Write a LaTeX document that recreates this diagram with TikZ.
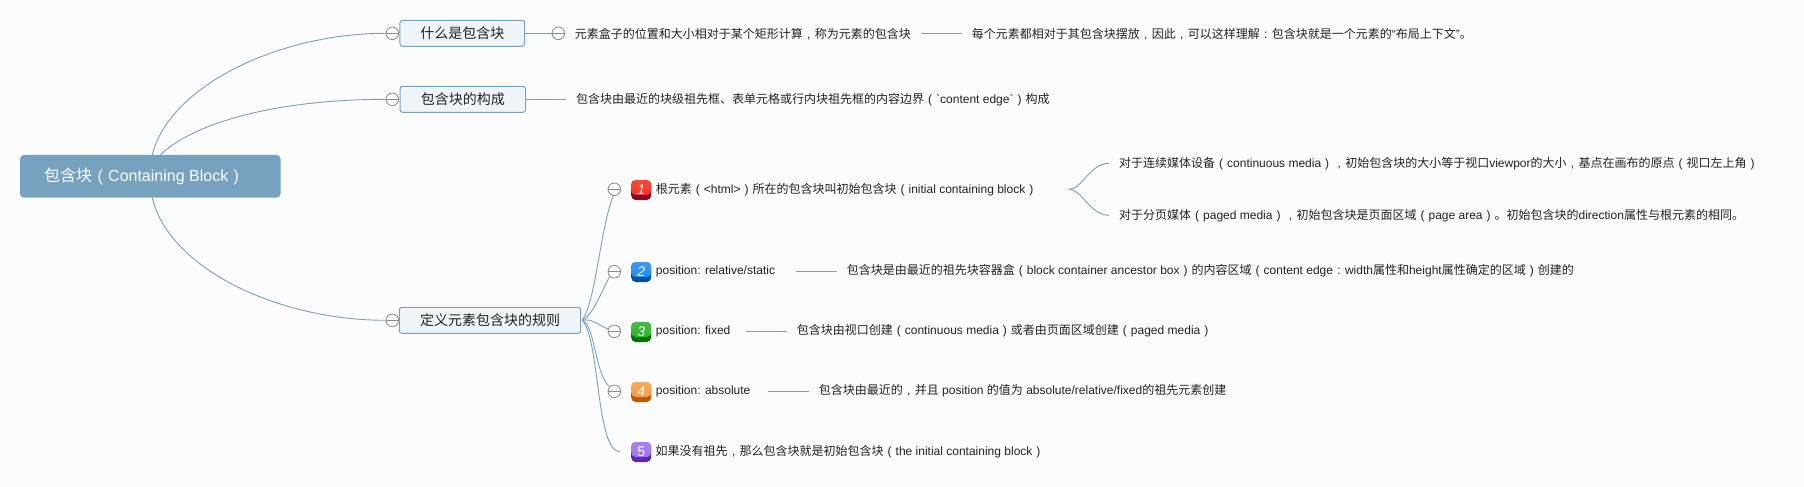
\documentclass[tikz,border=0pt]{standalone}
\usepackage{fontspec}
\setmainfont{Liberation Sans}
\newfontfamily\cjk{Noto Sans CJK SC}
\newfontfamily\lat{Liberation Sans}
\newcommand{\zh}[1]{{\cjk #1}}
\newcommand{\fw}[1]{\makebox[1em][c]{#1}}
\newcommand{\lp}{\fw{(}}
\newcommand{\rp}{\fw{)}}
\newcommand{\cma}{\fw{,}}
\newcommand{\cln}{\fw{:}}
\newcommand{\bq}{{\lat\char96}}
\definecolor{bg}{HTML}{FCFCFC}
\definecolor{main}{HTML}{76A2C0}
\definecolor{lite}{HTML}{EFF4F8}
\definecolor{ink}{HTML}{222222}
\definecolor{ring}{HTML}{8A8A8A}
\definecolor{redT}{HTML}{F42A18}\definecolor{redB}{HTML}{8A0424}
\definecolor{bluT}{HTML}{1C86F2}\definecolor{bluB}{HTML}{00509E}
\definecolor{greT}{HTML}{24B024}\definecolor{greB}{HTML}{007400}
\definecolor{oraT}{HTML}{F89A3C}\definecolor{oraB}{HTML}{B85A0A}
\definecolor{purT}{HTML}{9C6CF2}\definecolor{purB}{HTML}{5A28B4}
\tikzset{
  x=1pt,y=-1pt,
  link/.style={draw=main,line width=0.9pt},
  rootbox/.style={fill=main,rounded corners=4pt,text=white,inner sep=0pt,font=\fontsize{16}{18}\selectfont},
  topic/.style={draw=main,fill=lite,line width=1pt,rounded corners=2.5pt,inner sep=0pt,minimum height=26pt,text=ink,font=\fontsize{14}{16}\selectfont},
  minus/.style={circle,draw=ring,fill=bg,line width=0.8pt,minimum size=12.6pt,inner sep=0pt,
    path picture={\draw[ring,line width=0.8pt] (path picture bounding box.west) -- (path picture bounding box.east);}},
  txt/.style={anchor=base west,inner sep=0pt,text=ink,font=\fontsize{12}{14}\selectfont},
  pill/.style n args={2}{rectangle,rounded corners=4.5pt,minimum size=20pt,inner sep=0pt,fill=#2,text=white,font=\fontsize{14}{16}\selectfont\itshape,
    path picture={\shade[top color=#1!85!white,bottom color=#1] (path picture bounding box.north west) rectangle ([yshift=-15pt]path picture bounding box.north east);}},
}
\begin{document}
\begin{tikzpicture}
\useasboundingbox (0,0) rectangle (1804,487);
\fill[bg] (0,0) rectangle (1804,487);

\node[rootbox,minimum width=260.5pt,minimum height=42.7pt] (root) at (150.25,176.3) {\zh{包含块}\lp Containing Block\rp\hspace*{12pt}};

\node[topic,minimum width=124.7pt] (t1) at (462.3,33.3) {\raisebox{0.6pt}{\zh{什么是包含块}}};
\node[topic,minimum width=125.6pt] (t2) at (462.8,99.3) {\raisebox{0.6pt}{\zh{包含块的构成}}};
\node[topic,minimum width=181.4pt] (t3) at (490,320.3) {\zh{定义元素包含块的规则}};

\node[minus] (c1) at (392.3,33.3) {};
\node[minus] (c2) at (392.3,99.3) {};
\node[minus] (c3) at (392.3,320.3) {};
\node[minus] (d1) at (558.3,33.3) {};
\node[minus] (r1) at (614.3,189.3) {};
\node[minus] (r2) at (614.3,271.7) {};
\node[minus] (r3) at (614.3,331.3) {};
\node[minus] (r4) at (614.3,391.3) {};

% first branch
\node[txt] (a1) at (574.7,38.2) {\zh{元素盒子的位置和大小相对于某个矩形计算}\cma\zh{称为元素的包含块}};
\node[txt] (a2) at (971.7,38.2) {\zh{每个元素都相对于其包含块摆放}\cma\zh{因此}\cma\zh{可以这样理解}\cln\zh{包含块就是一个元素的}“\zh{布局上下文}”\zh{。}};
\node[txt] (b1) at (576,103.6) {\zh{包含块由最近的块级祖先框、表单元格或行内块祖先框的内容边界}\lp\bq content edge\bq\rp\zh{构成}};

% rule list
\node[pill={redT}{redB}] (i1) at (641.2,190) {1};
\node[pill={bluT}{bluB}] (i2) at (641.2,272) {2};
\node[pill={greT}{greB}] (i3) at (641.2,332) {3};
\node[pill={oraT}{oraB}] (i4) at (641.2,392) {4};
\node[pill={purT}{purB},font=\fontsize{14}{16}\selectfont] (i5) at (641.2,452) {5};

\node[txt] (l1) at (655.7,193.4) {\zh{根元素}\lp<html>\rp\zh{所在的包含块叫初始包含块}\lp initial containing block\rp};
\node[txt] (l2) at (655.7,274.4) {position: relative/static};
\node[txt] (l3) at (655.7,334.8) {position: fixed};
\node[txt] (l4) at (655.7,394.8) {position: absolute};
\node[txt] (l5) at (655.5,455) {\zh{如果没有祖先}\cma\zh{那么包含块就是初始包含块}\lp the initial containing block\rp};

\node[txt] (m1) at (1119,167.4) {\zh{对于连续媒体设备}\lp continuous media\rp\cma\zh{初始包含块的大小等于视口}viewpor\zh{的大小}\cma\zh{基点在画布的原点}\lp\zh{视口左上角}\rp};
\node[txt] (m2) at (1119,219.4) {\zh{对于分页媒体}\lp paged media\rp\cma\zh{初始包含块是页面区域}\lp page area\rp\zh{。初始包含块的}direction\zh{属性与根元素的相同。}};
\node[txt] (n2) at (846.7,274.4) {\zh{包含块是由最近的祖先块容器盒}\lp block container ancestor box\rp\zh{的内容区域}\lp content edge\cln width\zh{属性和}height\zh{属性确定的区域}\rp\zh{创建的}};
\node[txt] (n3) at (796.7,334.8) {\zh{包含块由视口创建}\lp continuous media\rp\zh{或者由页面区域创建}\lp paged media\rp};
\node[txt] (n4) at (818.7,394.8) {\zh{包含块由最近的}\cma\zh{并且} position \zh{的值为} absolute/relative/fixed\zh{的祖先元素创建}};

\coordinate (fa) at (921,33.3);
\coordinate (fb) at (961.7,33.3);
\coordinate (fc) at (566,99.3);
\coordinate (fd) at (1069,189.3);
\coordinate (fe) at (1109,163.3);
\coordinate (ff) at (1109,215.3);
\coordinate (g2a) at (796,271.3);
\coordinate (g2b) at (837,271.3);
\coordinate (g3a) at (746,331.3);
\coordinate (g3b) at (787,331.3);
\coordinate (g4a) at (768,391.3);
\coordinate (g4b) at (809,391.3);
\coordinate (h) at (582.3,320.3);
\coordinate (h5) at (620,451.7);

\draw[link] ([xshift=2pt]root.north) .. controls (170,85) and (280,33.3) .. (c1.west);
\draw[link] ([xshift=10pt]root.north) .. controls (200,118) and (290,99.3) .. (c2.west);
\draw[link] ([xshift=2pt]root.south) .. controls (170,270) and (280,320.3) .. (c3.west);
\draw[link] (t1.east) -- (d1.west);
\draw[link] (fa) -- (fb);
\draw[link] (t2.east) -- (fc);
\draw[link] (h) .. controls (596,300) and (600,230) .. (r1.-100);
\draw[link] (h) .. controls (592,316) and (600,295) .. (r2.225);
\draw[link] (h) .. controls (592,318) and (600,326) .. (r3.160);
\draw[link] (h) .. controls (595,325) and (595,375) .. (r4.135);
\draw[link] (h) .. controls (600,340) and (596,451.7) .. (h5);
\draw[link] (fd) .. controls (1082,189.3) and (1090,163.3) .. (fe);
\draw[link] (fd) .. controls (1082,189.3) and (1090,215.3) .. (ff);
\draw[link] (g2a) -- (g2b);
\draw[link] (g3a) -- (g3b);
\draw[link] (g4a) -- (g4b);
\end{tikzpicture}
\end{document}
